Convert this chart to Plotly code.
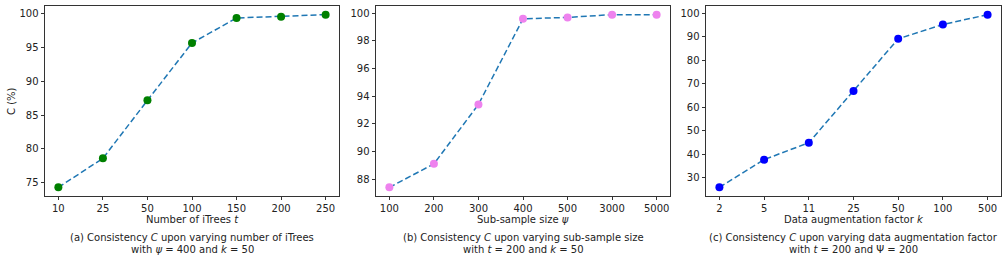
import plotly.graph_objects as go

W, H = 1008, 262

t_labels = ["10", "25", "50", "100", "150", "200", "250"]
t_values = [74.3, 78.6, 87.2, 95.7, 99.4, 99.6, 99.9]

psi_labels = ["100", "200", "300", "400", "500", "3000", "5000"]
psi_values = [87.4, 89.1, 93.4, 99.6, 99.7, 99.9, 99.9]

k_labels = ["2", "5", "11", "25", "50", "100", "500"]
k_values = [26.0, 37.8, 45.0, 67.0, 89.2, 95.3, 99.5]

panels = [
    dict(labels=t_labels, values=t_values, color="#008000",
         yticks=[75, 80, 85, 90, 95, 100],
         xtitle="Number of iTrees <i>t</i>",
         cap1="(a) Consistency <i>C</i> upon varying number of iTrees",
         cap2="with <i>ψ</i> = 400 and <i>k</i> = 50",
         px=(45, 339)),
    dict(labels=psi_labels, values=psi_values, color="#EE82EE",
         yticks=[88, 90, 92, 94, 96, 98, 100],
         xtitle="Sub-sample size <i>ψ</i>",
         cap1="(b) Consistency <i>C</i> upon varying sub-sample size",
         cap2="with <i>t</i> = 200 and <i>k</i> = 50",
         px=(376, 670)),
    dict(labels=k_labels, values=k_values, color="#0000FF",
         yticks=[30, 40, 50, 60, 70, 80, 90, 100],
         xtitle="Data augmentation factor <i>k</i>",
         cap1="(c) Consistency <i>C</i> upon varying data augmentation factor",
         cap2="with <i>t</i> = 200 and Ψ = 200",
         px=(706, 1001)),
]

font = "DejaVu Sans"
top_px, bot_px = 6, 196
fig = go.Figure()
layout = dict(width=W, height=H, margin=dict(l=0, r=0, t=0, b=0),
              paper_bgcolor="white", plot_bgcolor="white",
              showlegend=False, font=dict(family=font, size=10, color="#222"))
annotations = []

def py(p):
    return 1 - p / H

def ann(x, y, text, **kw):
    d = dict(x=x, y=y, xref="paper", yref="paper", text=text, showarrow=False,
             xanchor="center", yanchor="middle",
             font=dict(family=font, size=10, color="#222"))
    d.update(kw)
    return d

for i, p in enumerate(panels):
    n = i + 1
    xa = "xaxis" if n == 1 else f"xaxis{n}"
    ya = "yaxis" if n == 1 else f"yaxis{n}"
    xr = "x" if n == 1 else f"x{n}"
    yr = "y" if n == 1 else f"y{n}"
    idx = list(range(len(p["labels"])))
    fig.add_trace(go.Scatter(
        x=idx, y=p["values"], mode="lines+markers", xaxis=xr, yaxis=yr,
        line=dict(color="#1f77b4", dash="6px,3px", width=1.5),
        marker=dict(color=p["color"], size=8, line=dict(width=0)),
    ))
    vmin, vmax = min(p["values"]), max(p["values"])
    m = (vmax - vmin) * 0.05
    axcommon = dict(showline=True, mirror=True, linecolor="#333", linewidth=0.9,
                    ticks="outside", ticklen=3.5, tickcolor="#333", showgrid=False,
                    zeroline=False, tickfont=dict(family=font, size=10, color="#222"))
    layout[xa] = dict(domain=[p["px"][0] / W, p["px"][1] / W], range=[-0.3, 6.3],
                      tickmode="array", tickvals=idx, ticktext=p["labels"],
                      anchor=yr, **axcommon)
    layout[ya] = dict(domain=[py(bot_px), py(top_px)], range=[vmin - m, vmax + m],
                      tickmode="array", tickvals=p["yticks"], anchor=xr, **axcommon)
    cx = (p["px"][0] + p["px"][1]) / 2 / W
    annotations.append(ann(cx, py(219), p["xtitle"]))
    annotations.append(ann(cx, py(237), p["cap1"]))
    annotations.append(ann(cx, py(249), p["cap2"]))

annotations.append(ann(12 / W, py(101), "C (%)", textangle=-90))
layout["annotations"] = annotations
fig.update_layout(**layout)
fig.write_html("out.html", config={"displayModeBar": False},
               post_script="document.body.style.margin='0';document.body.style.overflow='hidden';")
